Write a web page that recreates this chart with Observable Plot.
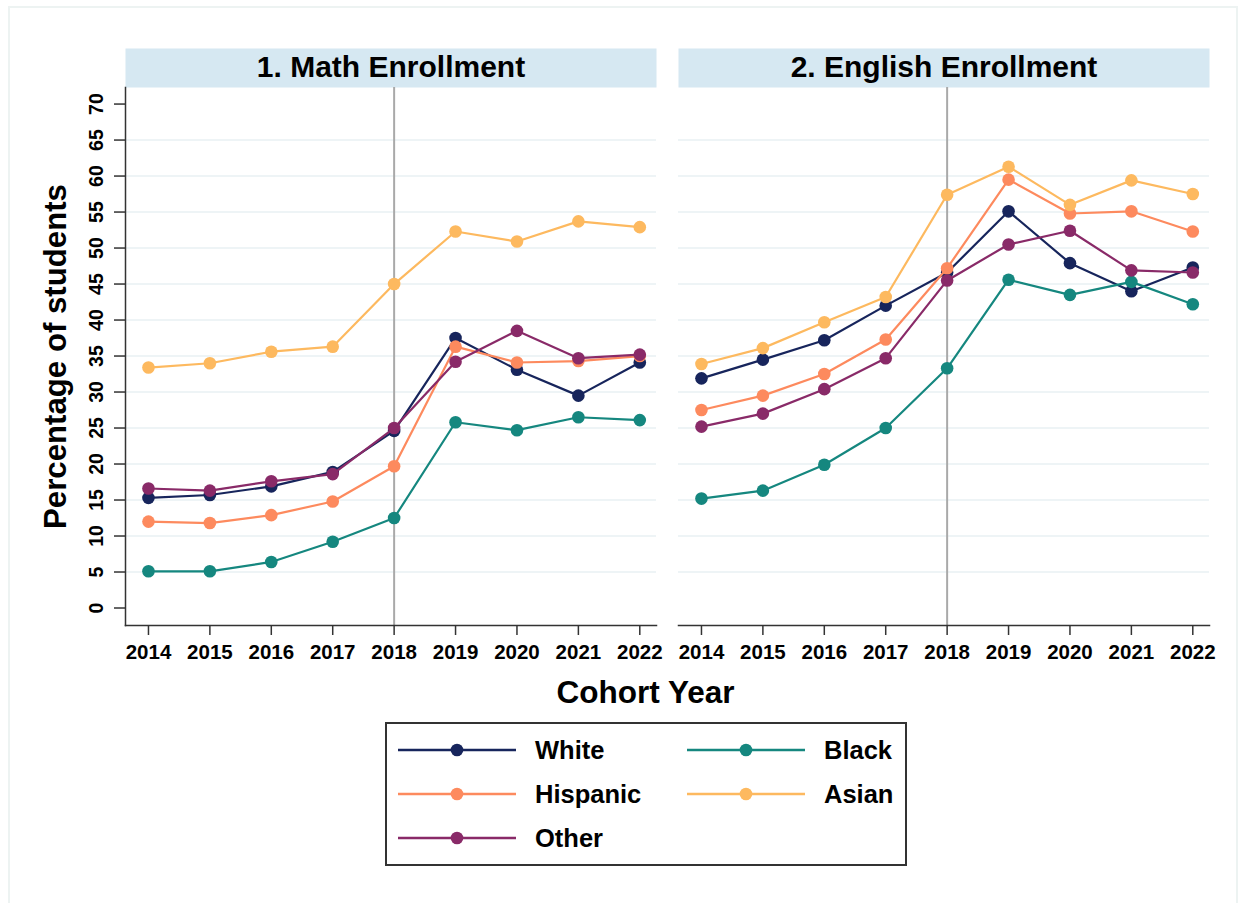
<!DOCTYPE html>
<html>
<head>
<meta charset="utf-8">
<script src="https://cdn.jsdelivr.net/npm/d3@7"></script>
<script src="https://cdn.jsdelivr.net/npm/@observablehq/plot@0.6"></script>
<style>
  body { margin: 0; background: #fff; font-family: "Liberation Sans", Arial, sans-serif; }
  #wrap { position: relative; width: 1244px; height: 903px; overflow: hidden; background: #fff; }
  #border { position: absolute; left: 8px; top: 6px; width: 1230px; height: 920px; border: 2px solid #edf3f2; box-sizing: border-box; }
  #chart { position: absolute; left: 0; top: 0; }
  #legend { position: absolute; left: 385px; top: 722px; width: 522px; height: 144px; border: 2px solid #333; box-sizing: border-box; background: #fff; }
  .item { position: absolute; display: flex; align-items: center; font-weight: bold; font-size: 25.5px; color: #000; height: 30px; }
  .item svg { margin-right: 19px; }
</style>
</head>
<body>
<div id="wrap">
  <div id="border"></div>
  <div id="chart"></div>
  <div id="legend"></div>
</div>
<script>
const years = [2014, 2015, 2016, 2017, 2018, 2019, 2020, 2021, 2022];
const subjects = ["1. Math Enrollment", "2. English Enrollment"];
const groups = ["White", "Black", "Hispanic", "Asian", "Other"];
const colors = ["#17255c", "#15877f", "#fd8a5e", "#fdb95f", "#892a68"];
const yTicks = [0, 5, 10, 15, 20, 25, 30, 35, 40, 45, 50, 55, 60, 65, 70];
const gridTicks = [5, 10, 15, 20, 25, 30, 35, 40, 45, 50, 55, 60, 65];
const policyYear = [2018];

// Math enrollment (%)
const mathWhite    = [15.3, 15.7, 16.9, 18.9, 24.6, 37.5, 33.1, 29.5, 34.1];
const mathBlack    = [5.1, 5.1, 6.4, 9.2, 12.5, 25.8, 24.7, 26.5, 26.1];
const mathHispanic = [12.0, 11.8, 12.9, 14.8, 19.7, 36.3, 34.1, 34.3, 35.0];
const mathAsian    = [33.4, 34.0, 35.6, 36.3, 45.0, 52.3, 50.9, 53.7, 52.9];
const mathOther    = [16.6, 16.3, 17.6, 18.6, 25.0, 34.2, 38.5, 34.7, 35.2];

// English enrollment (%)
const engWhite    = [31.9, 34.5, 37.2, 42.0, 46.6, 55.1, 47.9, 44.0, 47.3];
const engBlack    = [15.2, 16.3, 19.9, 25.0, 33.3, 45.6, 43.5, 45.3, 42.2];
const engHispanic = [27.5, 29.5, 32.5, 37.3, 47.2, 59.5, 54.8, 55.1, 52.3];
const engAsian    = [33.9, 36.1, 39.7, 43.2, 57.4, 61.3, 56.0, 59.4, 57.5];
const engOther    = [25.2, 27.0, 30.4, 34.7, 45.5, 50.5, 52.4, 46.9, 46.6];

const series = {
  [subjects[0]]: { White: mathWhite, Black: mathBlack, Hispanic: mathHispanic, Asian: mathAsian, Other: mathOther },
  [subjects[1]]: { White: engWhite, Black: engBlack, Hispanic: engHispanic, Asian: engAsian, Other: engOther }
};

const rows = [];
for (const s of subjects) for (const g of groups) years.forEach((yr, i) => rows.push({ subject: s, group: g, year: yr, value: series[s][g][i] }));

const seriesMarks = [];
groups.forEach((g, gi) => {
  const d = rows.filter(r => r.group === g);
  seriesMarks.push(Plot.lineY(d, { x: "year", y: "value", fx: "subject", z: "subject", stroke: colors[gi], strokeWidth: 2.2 }));
  seriesMarks.push(Plot.dot(d, { x: "year", y: "value", fx: "subject", fill: colors[gi], r: 6.3 }));
});

const chart = Plot.plot({
  width: 1244,
  height: 715,
  marginTop: 87,
  marginBottom: 90,
  marginLeft: 124,
  marginRight: 34,
  style: { fontFamily: "'Liberation Sans', Arial, sans-serif", background: "transparent", color: "#000" },
  fx: { domain: subjects, paddingInner: 0.0397, paddingOuter: 0, axis: null, label: null },
  x: { domain: [2013.626, 2022.272] },
  y: { domain: [-2.43, 72.3] },
  marks: [
    // strip header
    Plot.frame({ fill: "#d6e8f2", stroke: "none", insetTop: -39, insetBottom: 538 }),
    Plot.text(subjects, { fx: d => d, text: d => d, frameAnchor: "top", lineAnchor: "middle", dy: -20, fontSize: 30, fontWeight: "bold", fill: "#000" }),
    // gridlines
    Plot.ruleY(gridTicks, { stroke: "#e9f1f3", strokeWidth: 1.5 }),
    // policy year
    Plot.ruleX(policyYear, { stroke: "#a9a9a9", strokeWidth: 2 }),
    // axis lines
    Plot.frame({ anchor: "bottom", stroke: "#333", strokeWidth: 1.5 }),
    Plot.frame({ anchor: "left", stroke: "#333", strokeWidth: 1.5, fx: () => subjects[0] }),
    ...seriesMarks,
    Plot.axisX({ ticks: years, tickFormat: d => String(d), tickSize: 10, tickPadding: 9, fontSize: 20.5, fontWeight: "bold", stroke: "#333", strokeWidth: 1.5, label: null }),
    Plot.axisY({ ticks: yTicks, tickSize: 11, tickPadding: 11.5, tickRotate: -90, fontSize: 19.5, fontWeight: "bold", stroke: "#333", strokeWidth: 1.5, label: null }),
    Plot.text(["Cohort Year"], { frameAnchor: "bottom", lineAnchor: "middle", dy: 67, dx: -22, facet: "super", fontSize: 31.5, fontWeight: "bold", fill: "#000" }),
    Plot.text(["Percentage of students"], { frameAnchor: "left", textAnchor: "middle", lineAnchor: "middle", dx: -69, rotate: -90, facet: "super", fontSize: 31.2, fontWeight: "bold", fill: "#000" })
  ]
});
document.getElementById("chart").appendChild(chart);

// legend
const legend = document.getElementById("legend");
groups.forEach((g, i) => {
  const col = i % 2, row = Math.floor(i / 2);
  const item = document.createElement("div");
  item.className = "item";
  item.style.left = (col === 0 ? 11 : 300) + "px";
  item.style.top = (26 + row * 44 - 15) + "px";
  item.innerHTML = `<svg width="118" height="20"><line x1="0" x2="118" y1="10" y2="10" stroke="${colors[i]}" stroke-width="2.6"/><circle cx="59" cy="10" r="6.3" fill="${colors[i]}"/></svg><span>${g}</span>`;
  legend.appendChild(item);
});
</script>
</body>
</html>
